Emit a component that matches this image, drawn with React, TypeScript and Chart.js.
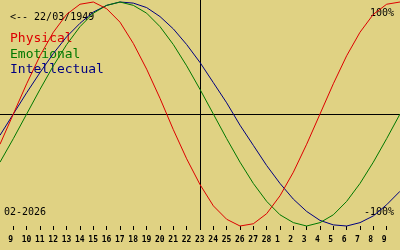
import React, { useEffect, useRef } from 'react';
import { Chart, registerables } from 'chart.js';

Chart.register(...registerables);

// Days shown: 8 Feb 2026 .. 10 Mar 2026 (index 15 = today, 23 Feb)
const dayLabels: string[] = [
  '8', '9', '10', '11', '12', '13', '14', '15', '16', '17', '18', '19', '20', '21', '22',
  '23', '24', '25', '26', '27', '28', '1', '2', '3', '4', '5', '6', '7', '8', '9', '10',
];
const hiddenTickIndexes: number[] = [0, 30];
const todayIndex = 15;

const physical: number[] = [
  -0.27, 0, 0.27, 0.52, 0.73, 0.89, 0.98, 1.0, 0.94, 0.82, 0.63, 0.4, 0.14, -0.14, -0.4, -0.63,
  -0.82, -0.94, -1.0, -0.98, -0.89, -0.73, -0.52, -0.27, 0, 0.27, 0.52, 0.73, 0.89, 0.98, 1.0,
];
const emotional: number[] = [
  -0.43, -0.22, 0, 0.22, 0.43, 0.62, 0.78, 0.9, 0.97, 1.0, 0.97, 0.9, 0.78, 0.62, 0.43, 0.22,
  0, -0.22, -0.43, -0.62, -0.78, -0.9, -0.97, -1.0, -0.97, -0.9, -0.78, -0.62, -0.43, -0.22, 0,
];
const intellectual: number[] = [
  -0.19, 0, 0.19, 0.37, 0.54, 0.69, 0.81, 0.91, 0.97, 1.0, 0.99, 0.95, 0.87, 0.76, 0.62, 0.46,
  0.28, 0.1, -0.1, -0.28, -0.46, -0.62, -0.76, -0.87, -0.95, -0.99, -1.0, -0.97, -0.91, -0.81, -0.69,
];

const seriesNames: string[] = ['Physical', 'Emotional', 'Intellectual'];
const seriesColors: string[] = ['#dd0000', '#007800', '#000080'];
const birthText = '<-- 22/03/1949';
const monthText = '02-2026';
const topText = '100%';
const bottomText = '-100%';

const BG = '#e0d283';
const MONO = '"DejaVu Sans Mono", "Liberation Mono", monospace';

const decorPlugin = {
  id: 'decor',
  beforeDraw(chart: any) {
    const { ctx, width, height } = chart;
    ctx.save();
    ctx.fillStyle = BG;
    ctx.fillRect(0, 0, width, height);
    ctx.restore();
  },
  beforeDatasetsDraw(chart: any) {
    const { ctx, width, scales } = chart;
    const x = scales.x;
    const y = scales.y;
    ctx.save();
    // texts
    ctx.fillStyle = '#000';
    ctx.textBaseline = 'alphabetic';
    ctx.textAlign = 'left';
    ctx.font = `10px ${MONO}`;
    ctx.fillText(birthText, 10, 20);
    ctx.fillText(monthText, 4, 215);
    ctx.textAlign = 'right';
    ctx.fillText(topText, 394, 16);
    ctx.fillText(bottomText, 394, 215);
    ctx.textAlign = 'left';
    ctx.font = `13px ${MONO}`;
    const baselines = [42, 58, 73];
    seriesNames.forEach((n, i) => {
      ctx.fillStyle = seriesColors[i];
      ctx.fillText(n, 10, baselines[i]);
    });
    // axes lines
    ctx.strokeStyle = '#000';
    ctx.lineWidth = 1;
    const y0 = Math.round(y.getPixelForValue(0)) + 0.5;
    ctx.beginPath();
    ctx.moveTo(0, y0);
    ctx.lineTo(width, y0);
    ctx.stroke();
    const xt = Math.round(x.getPixelForValue(todayIndex)) + 0.5;
    ctx.beginPath();
    ctx.moveTo(xt, 0);
    ctx.lineTo(xt, x.bottom - 20);
    ctx.stroke();
    ctx.restore();
  },
};

export default function App() {
  const ref = useRef<HTMLCanvasElement | null>(null);
  useEffect(() => {
    document.body.style.margin = '0';
    const canvas = ref.current;
    if (!canvas) return;
    const chart = new Chart(canvas, {
      type: 'line',
      data: {
        labels: dayLabels,
        datasets: [physical, emotional, intellectual].map((d, i) => ({
          label: seriesNames[i],
          data: d,
          borderColor: seriesColors[i],
          backgroundColor: seriesColors[i],
          borderWidth: 1,
          pointRadius: 0,
          tension: 0,
          fill: false,
          clip: false as any,
        })),
      },
      options: {
        animation: false,
        responsive: false,
        events: [],
        layout: { padding: { top: 2, left: 0, right: 0, bottom: 0 } },
        plugins: {
          legend: { display: false },
          tooltip: { enabled: false },
          title: { display: false },
        },
        scales: {
          x: {
            type: 'category',
            offset: false,
            border: { display: false },
            grid: {
              display: true,
              drawOnChartArea: false,
              drawTicks: true,
              tickLength: 4,
              color: '#000',
              lineWidth: 1,
            },
            ticks: {
              autoSkip: false,
              maxRotation: 0,
              minRotation: 0,
              align: 'start',
              labelOffset: -5,
              padding: 5,
              color: '#000',
              font: { family: MONO, size: 8, weight: 'bold' },
              callback: (_v: any, i: number) => (hiddenTickIndexes.includes(i) ? null : dayLabels[i]),
            },
            afterFit: (s: any) => {
              s.height = 24;
              s.paddingLeft = 0;
              s.paddingRight = 0;
            },
          },
          y: { display: false, min: -1, max: 1 },
        },
      },
      plugins: [decorPlugin],
    } as any);
    return () => chart.destroy();
  }, []);
  return (
    <div style={{ width: 400, height: 250 }}>
      <canvas ref={ref} width={400} height={250} style={{ display: 'block', width: 400, height: 250 }} />
    </div>
  );
}
